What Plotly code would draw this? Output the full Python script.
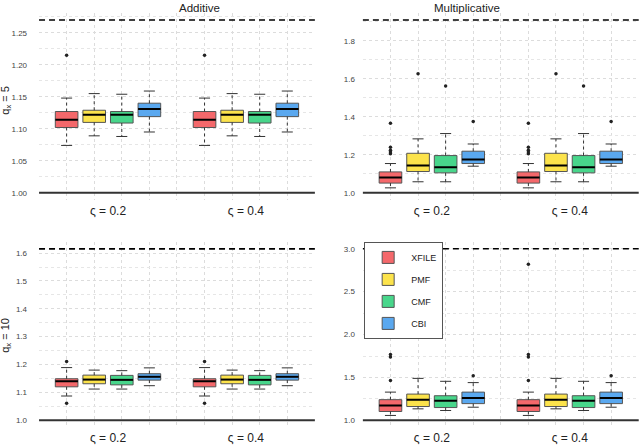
import plotly.graph_objects as go

# box summaries (same values at both ς levels)
methods = ["XFILE", "PMF", "CMF", "CBI"]
colors = ["#F4686B", "#FCE34B", "#48D68B", "#5AA8EF"]
levels = ["ς = 0.2", "ς = 0.4"]
centers = [2.5, 7.5]
offsets = [-1.5, -0.5, 0.5, 1.5]

# Additive, q_x = 5
add5_low = [1.074, 1.089, 1.088, 1.095]
add5_q1 = [1.102, 1.110, 1.109, 1.119]
add5_med = [1.114, 1.122, 1.122, 1.131]
add5_q3 = [1.127, 1.129, 1.127, 1.140]
add5_up = [1.148, 1.155, 1.154, 1.159]
add5_out = [[1.215], [], [], []]

# Multiplicative, q_x = 5
mul5_low = [1.026, 1.058, 1.058, 1.140]
mul5_q1 = [1.051, 1.112, 1.105, 1.154]
mul5_med = [1.081, 1.144, 1.135, 1.175]
mul5_q3 = [1.110, 1.208, 1.196, 1.219]
mul5_up = [1.154, 1.284, 1.312, 1.257]
mul5_out = [[1.205, 1.215, 1.224, 1.240, 1.366], [1.627], [1.562], [1.375]]

# Additive, q_x = 10
add10_low = [1.087, 1.112, 1.112, 1.124]
add10_q1 = [1.120, 1.131, 1.127, 1.144]
add10_med = [1.140, 1.146, 1.145, 1.156]
add10_q3 = [1.149, 1.162, 1.161, 1.167]
add10_up = [1.189, 1.180, 1.178, 1.188]
add10_out = [[1.061, 1.211], [], [], []]

# Multiplicative, q_x = 10
mul10_low = [1.057, 1.134, 1.115, 1.153]
mul10_q1 = [1.103, 1.161, 1.149, 1.195]
mul10_med = [1.172, 1.241, 1.229, 1.260]
mul10_q3 = [1.241, 1.306, 1.287, 1.329]
mul10_up = [1.329, 1.489, 1.455, 1.440]
mul10_out = [[1.463, 1.738, 1.769, 2.820], [], [], [1.520]]

# dashed upper reference per panel
upper_ref = [1.270, 1.910, 1.615, 3.0]

panels = [
    (add5_low, add5_q1, add5_med, add5_q3, add5_up, add5_out),
    (mul5_low, mul5_q1, mul5_med, mul5_q3, mul5_up, mul5_out),
    (add10_low, add10_q1, add10_med, add10_q3, add10_up, add10_out),
    (mul10_low, mul10_q1, mul10_med, mul10_q3, mul10_up, mul10_out),
]

xdom = [[0.061, 0.492], [0.567, 0.998]]
ydom = [[0.554, 0.971], [0.047, 0.460]]
yranges = [[0.989, 1.281], [0.963, 1.947], [0.976, 1.640], [0.923, 3.080]]
yticks = [(0.05, ".2f"), (0.2, ".1f"), (0.1, ".1f"), (0.5, ".1f")]
label_gap = [11, 7]

fig = go.Figure()
bw = 0.82
cap = 0.2

for p, (low, q1, med, q3, up, out) in enumerate(panels):
    xa = "x" if p == 0 else "x%d" % (p + 1)
    ya = "y" if p == 0 else "y%d" % (p + 1)
    for m in range(4):
        xs = [c + offsets[m] for c in centers]
        # whiskers (dotted) and caps
        wx, wy, cx, cy = [], [], [], []
        for x in xs:
            wx += [x, x, None, x, x, None]
            wy += [q3[m], up[m], None, q1[m], low[m], None]
            cx += [x - cap, x + cap, None, x - cap, x + cap, None]
            cy += [up[m], up[m], None, low[m], low[m], None]
        fig.add_trace(go.Scatter(x=wx, y=wy, mode="lines", xaxis=xa, yaxis=ya,
                                 line=dict(color="#333333", width=1, dash="dot"),
                                 showlegend=False, hoverinfo="skip"))
        fig.add_trace(go.Scatter(x=cx, y=cy, mode="lines", xaxis=xa, yaxis=ya,
                                 line=dict(color="#333333", width=1),
                                 showlegend=False, hoverinfo="skip"))
        fig.add_trace(go.Bar(x=xs, y=[q3[m] - q1[m]] * 2, base=[q1[m]] * 2,
                             width=bw, xaxis=xa, yaxis=ya, name=methods[m],
                             legendgroup=methods[m], showlegend=(p == 0),
                             marker=dict(color=colors[m],
                                         line=dict(color="#555555", width=1))))
        mx, my = [], []
        for x in xs:
            mx += [x - bw / 2, x + bw / 2, None]
            my += [med[m], med[m], None]
        fig.add_trace(go.Scatter(x=mx, y=my, mode="lines", xaxis=xa, yaxis=ya,
                                 line=dict(color="black", width=2),
                                 showlegend=False, hoverinfo="skip"))
        ox, oy = [], []
        for x in xs:
            ox += [x] * len(out[m])
            oy += out[m]
        if ox:
            fig.add_trace(go.Scatter(x=ox, y=oy, mode="markers", xaxis=xa, yaxis=ya,
                                     marker=dict(color="#222222", size=3.5),
                                     showlegend=False, hoverinfo="skip"))
    fig.add_shape(type="line", xref=xa + " domain", yref=ya, x0=0, x1=1,
                  y0=1.0, y1=1.0, line=dict(color="#333333", width=2))
    fig.add_shape(type="line", xref=xa + " domain", yref=ya, x0=0, x1=1,
                  y0=upper_ref[p], y1=upper_ref[p],
                  line=dict(color="black", width=1.6, dash="6px,4px"))

    row, col = p // 2, p % 2
    key = "" if p == 0 else str(p + 1)
    fig.layout["xaxis" + key] = dict(
        domain=xdom[col], anchor=ya, range=[0, 10],
        tickvals=centers, ticktext=levels, ticks="", showgrid=False,
        zeroline=False, tickfont=dict(size=12, color="#222222"),
        ticklabelstandoff=2,
        minor=dict(tickvals=list(range(1, 10)), showgrid=True,
                   gridcolor="#dcdcdc", griddash="dot", gridwidth=1, ticks=""))
    fig.layout["yaxis" + key] = dict(
        domain=ydom[row], anchor=xa, range=yranges[p],
        tick0=1.0, dtick=yticks[p][0], tickformat=yticks[p][1],
        showgrid=True, gridcolor="#dcdcdc", griddash="dot", zeroline=False,
        ticks="", ticklabelstandoff=label_gap[col],
        tickfont=dict(size=8, color="#444444"),
        minor=dict(dtick=yticks[p][0] / 2, showgrid=True, gridcolor="#e6e6e6",
                   griddash="dot", ticks=""))

fig.add_annotation(text="Additive", x=0.277, y=1.0, xref="paper",
                   yref="paper", yanchor="top", showarrow=False,
                   font=dict(size=11.5, color="#222222"))
fig.add_annotation(text="Multiplicative", x=0.784, y=1.0, xref="paper",
                   yref="paper", yanchor="top", showarrow=False,
                   font=dict(size=11.5, color="#222222"))
fig.add_annotation(text="q<sub>x</sub> = 5", x=0.009, y=0.777, xref="paper",
                   yref="paper", textangle=-90, showarrow=False,
                   xanchor="center", yanchor="middle",
                   font=dict(size=11, color="#222222"))
fig.add_annotation(text="q<sub>x</sub> = 10", x=0.009, y=0.252, xref="paper",
                   yref="paper", textangle=-90, showarrow=False,
                   xanchor="center", yanchor="middle",
                   font=dict(size=11, color="#222222"))

fig.update_layout(
    width=640, height=448, margin=dict(l=0, r=0, t=0, b=0),
    paper_bgcolor="white", plot_bgcolor="white", barmode="overlay",
    font=dict(family="Liberation Sans, Arial, sans-serif"),
    legend=dict(x=0.569, y=0.460, xanchor="left", yanchor="top",
                bgcolor="white", bordercolor="#555555", borderwidth=1,
                font=dict(size=9, color="#222222"), tracegroupgap=3,
                itemwidth=36),
)

fig.write_html("out.html", config={"displayModeBar": False},
               post_script="document.body.style.margin='0px';")
